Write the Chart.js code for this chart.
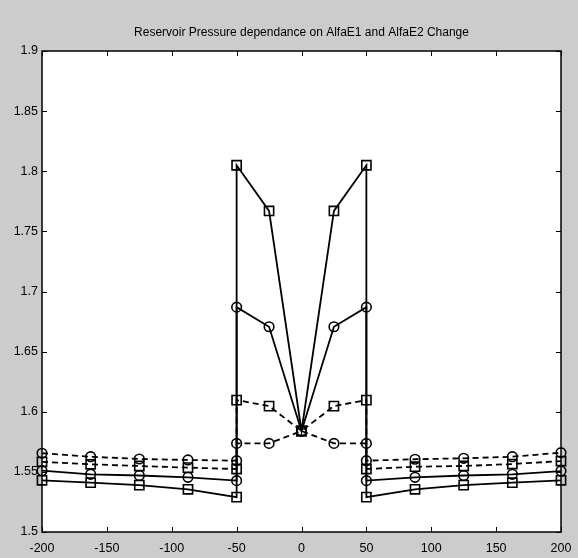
<!DOCTYPE html>
<html>
<head>
<meta charset="utf-8">
<script src="https://cdn.jsdelivr.net/npm/chart.js@4.4.1/dist/chart.umd.min.js"></script>
<style>
  html, body { margin: 0; padding: 0; background: #cccccc; }
  #wrap { width: 578px; height: 558px; }
</style>
</head>
<body>
<div id="wrap"><canvas id="chart" width="578" height="558"></canvas></div>
<script>
// x positions: left branch, centre peak (jumps at +/-50), right branch
const xValues = [-200, -162.5, -125, -87.5, -50, -50, -25, 0, 25, 50, 50, 87.5, 125, 162.5, 200];

const solidSquares = [1.543, 1.541, 1.539, 1.5355, 1.529, 1.805, 1.767, 1.584, 1.767, 1.805, 1.529, 1.5355, 1.539, 1.541, 1.543];
const solidCircles = [1.551, 1.548, 1.547, 1.5455, 1.5427, 1.687, 1.6707, 1.584, 1.6707, 1.687, 1.5427, 1.5455, 1.547, 1.548, 1.5507];
const dashedSquares = [1.5584, 1.5563, 1.5549, 1.5535, 1.5524, 1.6097, 1.6047, 1.584, 1.6047, 1.6097, 1.5524, 1.5543, 1.5549, 1.5565, 1.559];
const dashedCircles = [1.5655, 1.5626, 1.5607, 1.5599, 1.5593, 1.5737, 1.5737, 1.584, 1.5737, 1.5737, 1.5593, 1.5605, 1.5613, 1.5626, 1.566];

const xTicks = [-200, -150, -100, -50, 0, 50, 100, 150, 200];
const yTicks = [1.5, 1.55, 1.6, 1.65, 1.7, 1.75, 1.8, 1.85, 1.9];

const titleText = "Reservoir Pressure dependance on AlfaE1 and AlfaE2 Change";

const toPoints = (ys) => ys.map((y, i) => ({ x: xValues[i], y }));

const makeSeries = (ys, marker, dashed) => ({
  data: toPoints(ys),
  showLine: true,
  borderColor: "#000000",
  borderWidth: 1.8,
  borderDash: dashed ? [6, 4] : [],
  pointStyle: marker,
  pointRadius: marker === "rect" ? 6.5 : 4.8,
  pointBorderWidth: 1.6,
  pointBorderColor: "#000000",
  pointBackgroundColor: "rgba(0,0,0,0)",
  clip: false,
});

// grey figure, white axes box, inward ticks on all four sides
const framePlugin = {
  id: "frame",
  beforeDraw(chart) {
    const { ctx, chartArea: a } = chart;
    ctx.save();
    ctx.fillStyle = "#cccccc";
    ctx.fillRect(0, 0, chart.width, chart.height);
    ctx.fillStyle = "#ffffff";
    ctx.fillRect(a.left, a.top, a.right - a.left, a.bottom - a.top);
    ctx.restore();
  },
  afterDatasetsDraw(chart) {
    const { ctx, chartArea: a, scales } = chart;
    const len = 5;
    ctx.save();
    ctx.strokeStyle = "#000000";
    ctx.lineWidth = 1.5;
    ctx.strokeRect(a.left, a.top, a.right - a.left, a.bottom - a.top);
    ctx.lineWidth = 1;
    ctx.beginPath();
    scales.x.ticks.forEach((t) => {
      const px = Math.round(scales.x.getPixelForValue(t.value)) + 0.5;
      ctx.moveTo(px, a.bottom);
      ctx.lineTo(px, a.bottom - len);
      ctx.moveTo(px, a.top);
      ctx.lineTo(px, a.top + len);
    });
    scales.y.ticks.forEach((t) => {
      const py = Math.round(scales.y.getPixelForValue(t.value)) + 0.5;
      ctx.moveTo(a.left, py);
      ctx.lineTo(a.left + len, py);
      ctx.moveTo(a.right, py);
      ctx.lineTo(a.right - len, py);
    });
    ctx.stroke();
    ctx.restore();
  },
};

const labelFont = { family: "'Liberation Sans', Arial, sans-serif", size: 12.5 };

new Chart(document.getElementById("chart"), {
  type: "scatter",
  data: {
    datasets: [
      makeSeries(solidSquares, "rect", false),
      makeSeries(solidCircles, "circle", false),
      makeSeries(dashedSquares, "rect", true),
      makeSeries(dashedCircles, "circle", true),
    ],
  },
  options: {
    responsive: false,
    animation: false,
    devicePixelRatio: 1,
    layout: {
      padding: { top: 0, right: 17, bottom: 0, left: 0 },
    },
    plugins: {
      legend: { display: false },
      tooltip: { enabled: false },
      title: {
        display: true,
        fullSize: false,
        text: titleText,
        color: "#000000",
        font: { family: labelFont.family, size: 12, weight: "normal" },
        padding: { top: 25, bottom: 11.6 },
      },
    },
    scales: {
      x: {
        type: "linear",
        min: -200,
        max: 200,
        afterBuildTicks: (scale) => {
          scale.ticks = xTicks.map((v) => ({ value: v }));
        },
        afterFit: (scale) => {
          scale.height = 26;
          scale.paddingLeft = 0;
          scale.paddingRight = 0;
        },
        ticks: {
          color: "#000000",
          font: labelFont,
          padding: 9,
          maxRotation: 0,
          callback: (v) => String(v),
        },
        grid: { display: false, drawTicks: false },
        border: { display: false },
      },
      y: {
        type: "linear",
        min: 1.5,
        max: 1.9,
        afterBuildTicks: (scale) => {
          scale.ticks = yTicks.map((v) => ({ value: v }));
        },
        afterFit: (scale) => {
          scale.width = 42;
          scale.paddingTop = 0;
          scale.paddingBottom = 0;
        },
        ticks: {
          color: "#000000",
          font: labelFont,
          padding: 4,
          callback: (v) => String(v),
        },
        grid: { display: false, drawTicks: false },
        border: { display: false },
      },
    },
  },
  plugins: [framePlugin],
});
</script>
</body>
</html>
